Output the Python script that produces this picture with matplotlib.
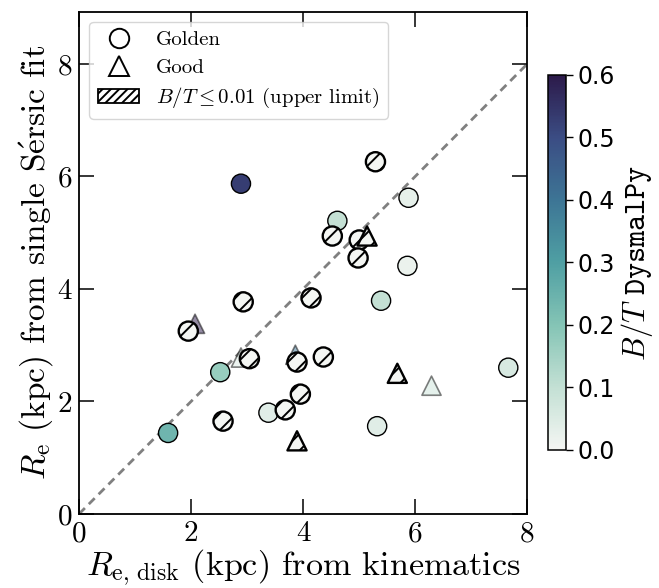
import numpy as np
import matplotlib
matplotlib.use("Agg")
import matplotlib.pyplot as plt
from matplotlib.lines import Line2D
from matplotlib.patches import Patch
from matplotlib.colors import LinearSegmentedColormap

plt.rcParams['font.family'] = 'serif'
plt.rcParams['font.serif'] = ['cmr10']
plt.rcParams['mathtext.fontset'] = 'cm'
plt.rcParams['hatch.linewidth'] = 1.4

# golden sample, B/T measured
gold_x = [2.89, 5.88, 4.61, 5.86, 5.39, 2.52, 3.38, 1.59, 5.32, 7.66]
gold_y = [5.87, 5.62, 5.21, 4.41, 3.79, 2.52, 1.80, 1.44, 1.56, 2.60]
gold_bt = [0.53, 0.03, 0.10, 0.02, 0.10, 0.17, 0.04, 0.24, 0.04, 0.06]

# golden sample, B/T <= 0.01 (upper limit)
gold_ul_x = [5.29, 4.52, 5.00, 4.98, 4.14, 2.93, 1.95, 3.04, 3.89, 4.36, 3.95, 3.68, 2.57]
gold_ul_y = [6.26, 4.94, 4.87, 4.55, 3.84, 3.77, 3.25, 2.76, 2.70, 2.79, 2.13, 1.85, 1.65]

# good sample, B/T measured
good_x = [2.07, 2.89, 3.86, 6.29]
good_y = [3.38, 2.78, 2.83, 2.28]
good_bt = [0.60, 0.05, 0.40, 0.08]

# good sample, B/T <= 0.01
good_ul_x = [5.14, 5.68, 3.89]
good_ul_y = [4.94, 2.50, 1.30]

cmap_colors = ['#f4f6f3', '#c3e0d4', '#84c4b5', '#4f9fa3', '#3d7595', '#3b4d84', '#2c1a4a']
cmap = LinearSegmentedColormap.from_list('bt', cmap_colors)
vmin, vmax = 0.0, 0.6

fig = plt.figure(figsize=(6.59, 5.88), dpi=100)
ax = fig.add_axes([0.1199, 0.1259, 0.6803, 0.8545])
cax = fig.add_axes([0.8316, 0.2347, 0.0273, 0.6378])

ax.plot([0, 10], [0, 10], ls='--', color='gray', lw=2, zorder=1, dashes=(3, 2))

msize = 190
ax.scatter(good_x, good_y, c=good_bt, cmap=cmap, vmin=vmin, vmax=vmax, marker='^',
           s=msize, edgecolors='k', linewidths=1.2, alpha=0.5, zorder=2)
sc = ax.scatter(gold_x, gold_y, c=gold_bt, cmap=cmap, vmin=vmin, vmax=vmax, marker='o',
                s=msize, edgecolors='k', linewidths=1.0, zorder=3)
ax.scatter(gold_ul_x, gold_ul_y, c=[0.0]*len(gold_ul_x), cmap=cmap, vmin=vmin, vmax=vmax,
           marker='o', s=msize, edgecolors='k', linewidths=1.7, hatch='//', zorder=4)
ax.scatter(good_ul_x, good_ul_y, c=[0.0]*len(good_ul_x), cmap=cmap, vmin=vmin, vmax=vmax,
           marker='^', s=msize, edgecolors='k', linewidths=1.7, hatch='//', zorder=5)

ax.set_xlim(0, 8)
ax.set_ylim(0, 8.93)
ax.set_xticks([0, 2, 4, 6, 8])
ax.set_yticks([0, 2, 4, 6, 8])
ax.tick_params(direction='in', length=11, width=1.1, top=True, right=True, labelsize=21, pad=5)
for sp in ax.spines.values():
    sp.set_linewidth(1.3)

ax.set_xlabel(r'$R_{\rm e,\,disk}$ (kpc) from kinematics', fontsize=24.5, labelpad=0)
ax.set_ylabel(r'$R_{\rm e}$ (kpc) from single S$\acute{\rm e}$rsic fit', fontsize=24, labelpad=2)

handles = [
    Line2D([], [], marker='o', ls='none', mfc='white', mec='k', ms=14, mew=1.4),
    Line2D([], [], marker='^', ls='none', mfc='white', mec='k', ms=14, mew=1.4),
    Patch(facecolor='white', edgecolor='k', hatch='////', lw=1.3),
]
labels = ['Golden', 'Good', r'$B/T \leq 0.01$ (upper limit)']
ax.legend(handles, labels, loc='upper left', fontsize=15, handlelength=2.0,
          borderaxespad=0.5, labelspacing=0.45)

cb = fig.colorbar(sc, cax=cax)
cb.set_ticks([0.0, 0.1, 0.2, 0.3, 0.4, 0.5, 0.6])
cb.ax.tick_params(labelsize=17, length=5, width=1, pad=3)
for lab in cb.ax.get_yticklabels():
    lab.set_fontfamily('DejaVu Sans')
cb.outline.set_linewidth(1.1)
cb.set_label(r'$B/T$ $\mathtt{DysmalPy}$', fontsize=22, labelpad=3)

fig.savefig('out.png', dpi=100)
